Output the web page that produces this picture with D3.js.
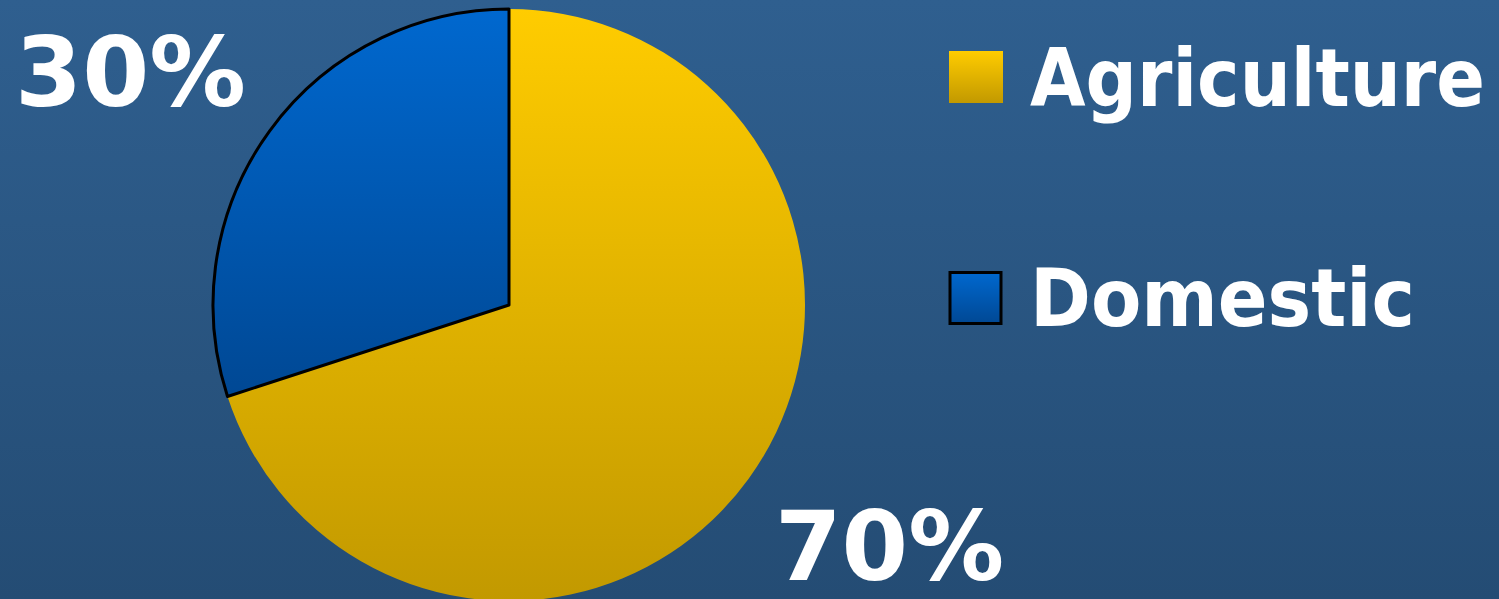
<!DOCTYPE html>
<html>
<head>
<meta charset="utf-8">
<script src="https://cdn.jsdelivr.net/npm/d3@7"></script>
<style>
  html, body { margin: 0; padding: 0; overflow: hidden; }
  svg { display: block; }
</style>
</head>
<body>
<div id="viz"></div>
<script>
var width = 1499;
var height = 599;

var categories = ["Agriculture", "Domestic"];
var values = [70, 30];
var labels = ["70%", "30%"];
var topColors = ["#FFCC00", "#0068CF"];
var bottomColors = ["#C29900", "#004894"];

var cx = 509, cy = 305, radius = 296;

var svg = d3.select("#viz").append("svg")
  .attr("width", width)
  .attr("height", height);

var defs = svg.append("defs");

var bg = defs.append("linearGradient")
  .attr("id", "bg")
  .attr("x1", 0).attr("y1", 0).attr("x2", 0).attr("y2", 1);
bg.append("stop").attr("offset", "0%").attr("stop-color", "#2F5F8F");
bg.append("stop").attr("offset", "100%").attr("stop-color", "#244C74");

categories.forEach(function(c, i) {
  var g = defs.append("linearGradient")
    .attr("id", "grad" + i)
    .attr("x1", 0).attr("y1", 0).attr("x2", 0).attr("y2", 1);
  g.append("stop").attr("offset", "0%").attr("stop-color", topColors[i]);
  g.append("stop").attr("offset", "100%").attr("stop-color", bottomColors[i]);
});

svg.append("rect")
  .attr("width", width)
  .attr("height", height)
  .attr("fill", "url(#bg)");

var pie = d3.pie().sort(null).value(function(d) { return d; });
var arc = d3.arc().innerRadius(0).outerRadius(radius);

var pieG = svg.append("g")
  .attr("transform", "translate(" + cx + "," + cy + ")");

pieG.selectAll("path")
  .data(pie(values))
  .enter().append("path")
  .attr("d", arc)
  .attr("fill", function(d, i) { return "url(#grad" + i + ")"; })
  .attr("stroke", function(d, i) { return i == 1 ? "#000" : "none"; })
  .attr("stroke-width", 3)
  .attr("stroke-linejoin", "round");

var font = "'DejaVu Sans', Verdana, sans-serif";

// percent labels
var labelPos = [[775, 580, 229], [15, 106, 231]];
svg.selectAll("text.pct")
  .data(labels)
  .enter().append("text")
  .attr("class", "pct")
  .attr("x", function(d, i) { return labelPos[i][0]; })
  .attr("y", function(d, i) { return labelPos[i][1]; })
  .attr("textLength", function(d, i) { return labelPos[i][2]; })
  .attr("lengthAdjust", "spacingAndGlyphs")
  .style("font-family", font)
  .style("font-weight", "bold")
  .style("font-size", "96px")
  .attr("fill", "white")
  .text(function(d) { return d; });

// legend
var legY = [51, 271];
var legendLen = [455, 385];
var legend = svg.append("g");

legend.selectAll("rect")
  .data(categories)
  .enter().append("rect")
  .attr("x", function(d, i) { return i == 1 ? 950 : 949; })
  .attr("y", function(d, i) { return i == 1 ? legY[i] + 1.5 : legY[i]; })
  .attr("width", function(d, i) { return i == 1 ? 51 : 54; })
  .attr("height", function(d, i) { return i == 1 ? 51 : 52; })
  .attr("fill", function(d, i) { return "url(#grad" + i + ")"; })
  .attr("stroke", function(d, i) { return i == 1 ? "#000" : "none"; })
  .attr("stroke-width", 3);

legend.selectAll("text")
  .data(categories)
  .enter().append("text")
  .attr("x", 1030)
  .attr("y", function(d, i) { return legY[i] + 54.5; })
  .attr("textLength", function(d, i) { return legendLen[i]; })
  .attr("lengthAdjust", "spacingAndGlyphs")
  .style("font-family", font)
  .style("font-weight", "bold")
  .style("font-size", "81px")
  .attr("fill", "white")
  .text(function(d) { return d; });
</script>
</body>
</html>
